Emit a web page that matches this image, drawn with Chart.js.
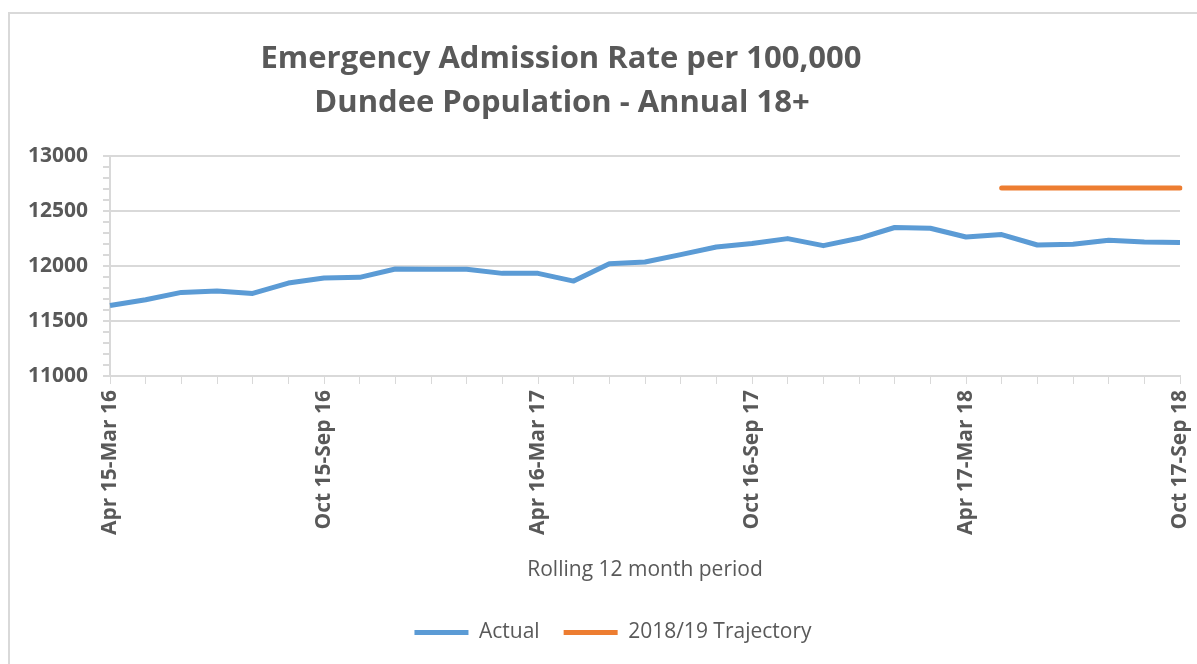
<!DOCTYPE html>
<html lang="en">
<head>
    <meta charset="UTF-8">
    <title>Emergency Admission Rate</title>
    <style>
        body {
            margin: 0;
            background-color: #fff;
            font-family: "Open Sans", sans-serif;
        }
        .frame {
            position: absolute;
            left: 8px;
            top: 12px;
            width: 1200px;
            height: 660px;
            border: 2px solid #d9d9d9;
        }
        .chart-container {
            position: absolute;
            left: 0;
            top: 0;
            width: 1197px;
            height: 664px;
        }
    </style>
</head>
<body>
    <div class="frame"></div>
    <div class="chart-container">
        <canvas id="chart"></canvas>
    </div>

    <script src="https://cdn.jsdelivr.net/npm/chart.js"></script>

    <script>
        // rolling 12 month periods
        const periods = [
            'Apr 15-Mar 16', 'May 15-Apr 16', 'Jun 15-May 16', 'Jul 15-Jun 16', 'Aug 15-Jul 16', 'Sep 15-Aug 16',
            'Oct 15-Sep 16', 'Nov 15-Oct 16', 'Dec 15-Nov 16', 'Jan 16-Dec 16', 'Feb 16-Jan 17', 'Mar 16-Feb 17',
            'Apr 16-Mar 17', 'May 16-Apr 17', 'Jun 16-May 17', 'Jul 16-Jun 17', 'Aug 16-Jul 17', 'Sep 16-Aug 17',
            'Oct 16-Sep 17', 'Nov 16-Oct 17', 'Dec 16-Nov 17', 'Jan 17-Dec 17', 'Feb 17-Jan 18', 'Mar 17-Feb 18',
            'Apr 17-Mar 18', 'May 17-Apr 18', 'Jun 17-May 18', 'Jul 17-Jun 18', 'Aug 17-Jul 18', 'Sep 17-Aug 18',
            'Oct 17-Sep 18'
        ];

        const actual = [
            11641, 11693, 11760, 11772, 11751, 11845, 11891, 11897, 11973, 11970, 11970, 11933,
            11933, 11863, 12021, 12036, 12103, 12173, 12204, 12249, 12185, 12252, 12350, 12343,
            12264, 12286, 12191, 12198, 12234, 12219, 12213
        ];

        const trajectory = [
            null, null, null, null, null, null, null, null, null, null, null, null,
            null, null, null, null, null, null, null, null, null, null, null, null,
            null, 12710, 12710, 12710, 12710, 12710, 12710
        ];

        const yTicks = [11000, 11500, 12000, 12500, 13000];
        const titleLines = ['Emergency Admission Rate per 100,000', 'Dundee Population - Annual 18+'];

        const grey = '#595959';
        const gridGrey = '#d9d9d9';

        // title sits left of centre in the original, so draw it ourselves
        const titlePlugin = {
            id: 'offsetTitle',
            afterDraw(chart) {
                const ctx = chart.ctx;
                ctx.save();
                ctx.fillStyle = grey;
                ctx.font = 'bold 31px "Open Sans"';
                ctx.textAlign = 'center';
                ctx.textBaseline = 'alphabetic';
                ctx.fillText(titleLines[0], 561, 68);
                ctx.fillText(titleLines[1], 562, 112);
                ctx.restore();
            }
        };

        // nudge the legend a little right, as in the original
        const legendShift = {
            id: 'legendShift',
            afterLayout(chart) {
                if (chart.legend) {
                    chart.legend.left += 23;
                    chart.legend.right += 23;
                }
            }
        };

        new Chart(document.getElementById('chart').getContext('2d'), {
            type: 'line',
            data: {
                labels: periods,
                datasets: [
                    {
                        label: 'Actual',
                        data: actual,
                        borderColor: '#5b9bd5',
                        backgroundColor: '#5b9bd5',
                        borderWidth: 5,
                        pointRadius: 0,
                        borderJoinStyle: 'round',
                        tension: 0
                    },
                    {
                        label: '2018/19 Trajectory',
                        data: trajectory,
                        borderColor: '#ed7d31',
                        backgroundColor: '#ed7d31',
                        borderWidth: 5,
                        pointRadius: 0,
                        borderCapStyle: 'round',
                        tension: 0
                    }
                ]
            },
            options: {
                responsive: true,
                maintainAspectRatio: false,
                animation: false,
                layout: {
                    autoPadding: false,
                    padding: { top: 156, right: 17, bottom: 11, left: 0 }
                },
                plugins: {
                    title: { display: false },
                    tooltip: { enabled: false },
                    legend: {
                        position: 'bottom',
                        labels: {
                            color: grey,
                            font: { family: 'Open Sans', size: 21 },
                            boxWidth: 54,
                            boxHeight: 5,
                            padding: 24,
                            generateLabels(chart) {
                                return Chart.defaults.plugins.legend.labels.generateLabels(chart)
                                    .map(item => Object.assign(item, { lineWidth: 0 }));
                            }
                        }
                    }
                },
                scales: {
                    x: {
                        offset: false,
                        afterFit(scale) {
                            const legendH = scale.chart.legend ? scale.chart.legend.height : 64;
                            scale.height = 664 - 376 - legendH - 11;
                            scale.paddingLeft = 0;
                            scale.paddingRight = 0;
                        },
                        grid: {
                            drawOnChartArea: false,
                            tickLength: 8,
                            tickColor: gridGrey,
                            offset: false
                        },
                        border: { color: gridGrey, width: 2 },
                        ticks: {
                            autoSkip: false,
                            maxRotation: 90,
                            minRotation: 90,
                            padding: 6,
                            color: grey,
                            font: { family: 'Open Sans', size: 21, weight: 'bold' },
                            callback(value, index) {
                                return index % 6 === 0 ? periods[index] : '';
                            }
                        },
                        title: {
                            display: true,
                            text: 'Rolling 12 month period',
                            color: grey,
                            font: { family: 'Open Sans', size: 21 },
                            padding: { top: 0, bottom: 15 }
                        }
                    },
                    y: {
                        min: 11000,
                        max: 13000,
                        afterFit(scale) {
                            scale.width = 110;
                        },
                        grid: {
                            color: ctx => (ctx.tick && yTicks.includes(ctx.tick.value)) ? gridGrey : 'rgba(0,0,0,0)',
                            tickColor: gridGrey,
                            tickLength: 7,
                            lineWidth: 2
                        },
                        border: { color: gridGrey, width: 2 },
                        ticks: {
                            stepSize: 100,
                            autoSkip: false,
                            padding: 15,
                            color: grey,
                            font: { family: 'Open Sans', size: 21, weight: 'bold' },
                            callback(value) {
                                return yTicks.includes(value) ? value : '';
                            }
                        }
                    }
                }
            },
            plugins: [titlePlugin, legendShift]
        });
    </script>
</body>
</html>
